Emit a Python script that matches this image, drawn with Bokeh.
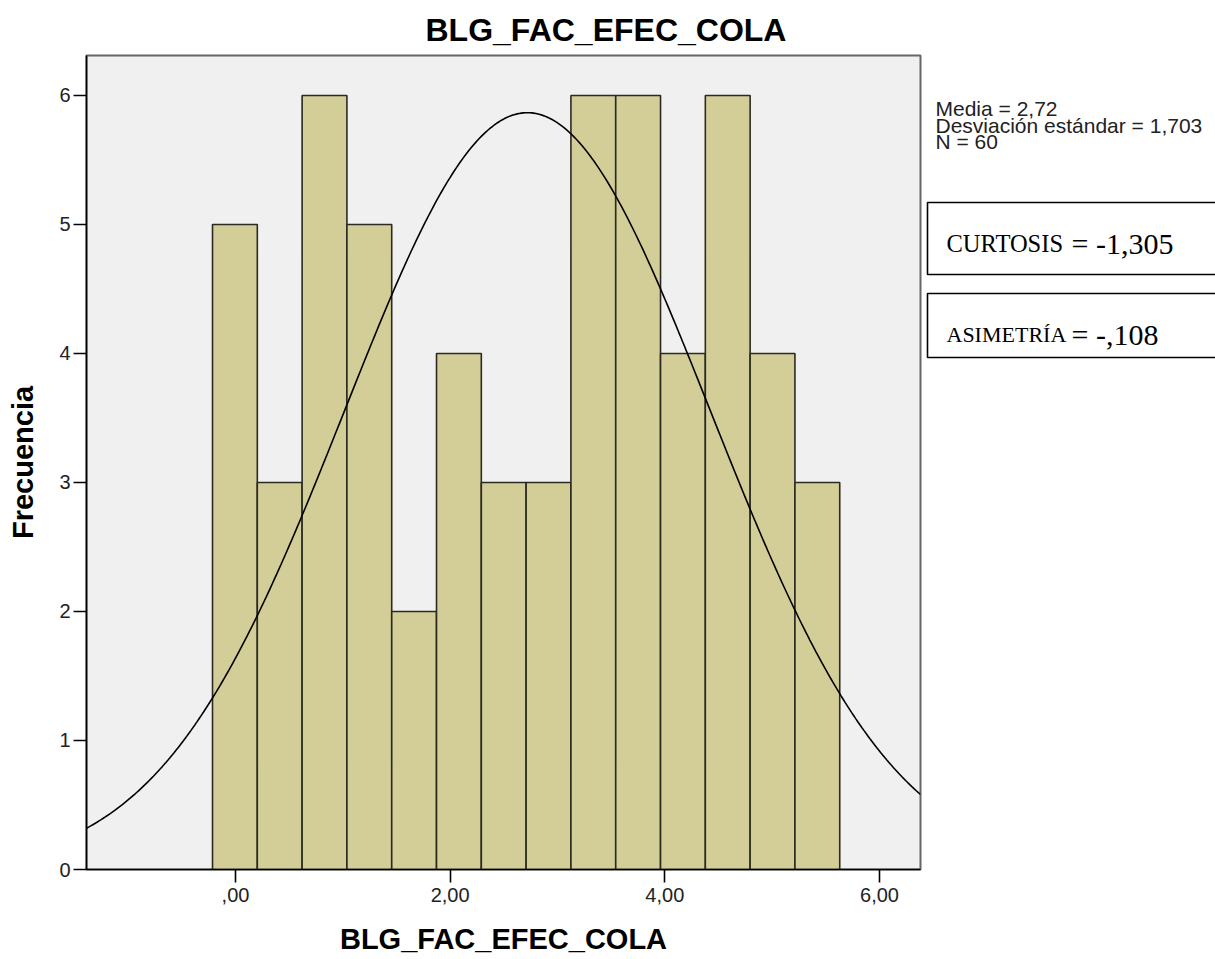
import numpy as np
from bokeh.plotting import figure
from bokeh.layouts import row
from bokeh.models import FixedTicker, CustomJSTickFormatter, Range1d
from bokeh.core.properties import value
from bokeh.embed import file_html
from bokeh.resources import INLINE

# ---- data ----
title_text = "BLG_FAC_EFEC_COLA"
x_label = "BLG_FAC_EFEC_COLA"
y_label = "Frecuencia"
bin_start = -0.214
bin_width = 0.4174
counts = [5, 3, 6, 5, 2, 4, 3, 3, 6, 6, 4, 6, 4, 3]
mean_val = 2.72
sd_val = 1.703
n_val = 60
x_ticks = [0, 2, 4, 6]
y_ticks = [0, 1, 2, 3, 4, 5, 6]
stats_lines = ["Media = 2,72", "Desviación estándar = 1,703", "N = 60"]
box_names = ["CURTOSIS", "ASIMETRÍA"]
box_values = ["= -1,305", "= -,108"]

# frame geometry on the canvas (pixels)
FL, FR, FT, FB = 86, 920, 55, 869
W, H = 1215, 959
MAIN_W = FR + 2

x0, x1 = -1.388, 6.382
y0, y1 = 0, 6.31

p = figure(width=MAIN_W, height=H, x_range=Range1d(x0, x1), y_range=Range1d(y0, y1),
           output_backend="svg", toolbar_location=None,
           min_border_left=FL, min_border_right=MAIN_W - FR,
           min_border_top=FT, min_border_bottom=H - FB)

p.background_fill_color = "#f0f0f0"
p.border_fill_color = "white"
p.outline_line_color = "#666666"
p.outline_line_width = 2
p.xgrid.visible = False
p.ygrid.visible = False

p.title.text = title_text
p.title.align = "left"
p.title.offset = 339
p.title.standoff = 15
p.title.text_font = "Liberation Sans"
p.title.text_font_style = "bold"
p.title.text_font_size = "32px"
p.title.text_color = "black"

lefts = [bin_start + i * bin_width for i in range(len(counts))]
rights = [l + bin_width for l in lefts]
p.quad(left=lefts, right=rights, top=counts, bottom=0,
       fill_color="#d3ce97", line_color="#2a2a22", line_width=1.6)

# normal curve defined by the reported mean / sd / N
xs = np.linspace(x0, x1, 400)
peak = n_val * bin_width / (sd_val * np.sqrt(2 * np.pi))
ys = peak * np.exp(-0.5 * ((xs - mean_val) / sd_val) ** 2)
p.line(xs, ys, line_color="black", line_width=1.6)

for ax in (p.xaxis[0], p.yaxis[0]):
    ax.axis_line_color = "black"
    ax.axis_line_width = 1.6
    ax.major_tick_line_color = "black"
    ax.major_tick_line_width = 1.6
    ax.minor_tick_line_color = None
    ax.major_tick_in = 0
    ax.major_label_text_font = "Liberation Sans"
    ax.major_label_text_font_size = "20px"
    ax.major_label_text_color = "#222222"
    ax.axis_label_text_font = "Liberation Sans"
    ax.axis_label_text_font_style = "bold"
    ax.axis_label_text_font_size = "29px"
    ax.axis_label_text_color = "black"

p.xaxis.ticker = FixedTicker(ticks=x_ticks)
p.xaxis.major_tick_out = 13
p.xaxis.major_label_standoff = 5
p.xaxis.formatter = CustomJSTickFormatter(code="""
let s = tick.toFixed(2).replace('.', ',');
if (s.startsWith('0,')) { s = s.substring(1); }
return s;
""")
p.xaxis.axis_label = x_label
p.xaxis.axis_label_standoff = 18

p.yaxis.ticker = FixedTicker(ticks=y_ticks)
p.yaxis.major_tick_out = 13
p.yaxis.major_label_standoff = 3
p.yaxis.axis_label = y_label
p.yaxis.axis_label_standoff = 17

# ---- side panel with the statistics (canvas pixel coordinates) ----
# the row aligns this panel's frame with the main frame (rows FT..FB)
side = figure(width=W - MAIN_W, height=H, x_range=Range1d(MAIN_W, W), y_range=Range1d(FB, FT),
              output_backend="svg", toolbar_location=None,
              x_axis_type=None, y_axis_type=None,
              min_border_left=0, min_border_right=0,
              min_border_top=FT, min_border_bottom=H - FB)
side.outline_line_color = None
side.background_fill_color = "white"
side.border_fill_color = "white"
side.xgrid.visible = False
side.ygrid.visible = False

side.text(x=[935] * len(stats_lines), y=[108 + 16.5 * i for i in range(len(stats_lines))],
          text=stats_lines, text_align="left", text_baseline="alphabetic",
          text_font=value("Liberation Sans"), text_font_size=value("21px"),
          text_color="#222222")

box_tops = [202, 293]
box_bottoms = [274, 357]
side.quad(left=[927, 927], right=[1225, 1225], top=box_tops, bottom=box_bottoms,
          fill_alpha=0, line_color="black", line_width=1.6)

baselines = [243, 334]
name_sizes = ["24.5px", "22px"]
side.text(x=[946, 946], y=baselines, text=box_names, text_align="left",
          text_baseline="alphabetic", text_font=value("Liberation Serif"),
          text_font_size=name_sizes, text_color="black")
side.text(x=[1071, 1071], y=baselines, text=box_values, text_align="left",
          text_baseline="alphabetic", text_font=value("Liberation Serif"),
          text_font_size=value("30px"), text_color="black")

layout = row(p, side, spacing=0)
open("out.html", "w").write(file_html(layout, INLINE))
